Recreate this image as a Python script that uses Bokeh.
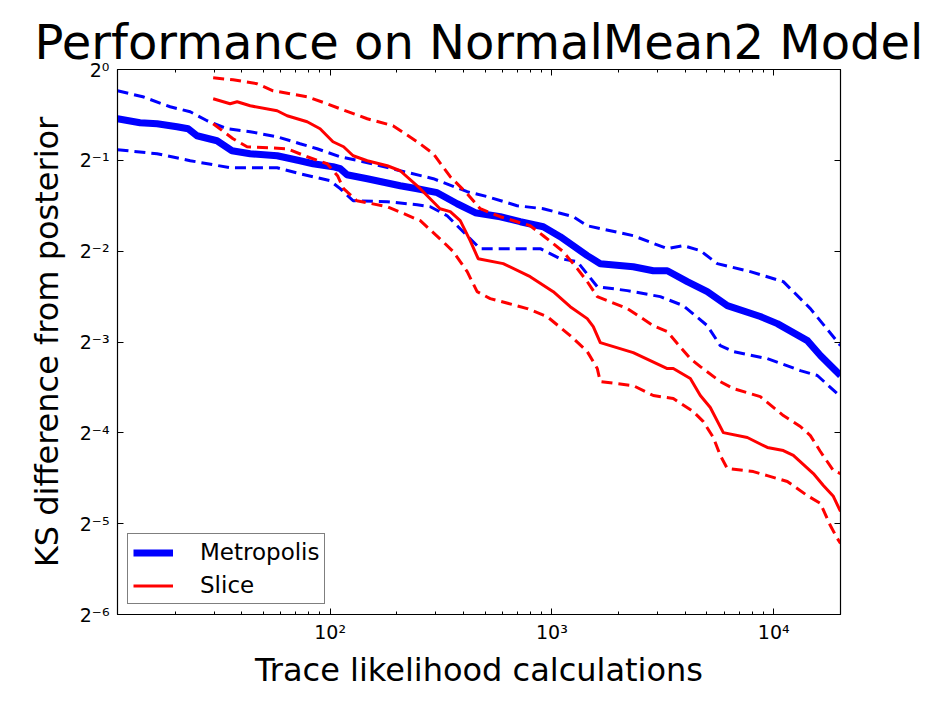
from bokeh.plotting import figure
from bokeh.models import FixedTicker, CustomJSTickFormatter, LogAxis
from bokeh.embed import file_html
from bokeh.resources import INLINE

# ---------------- data ----------------
metro_mean_x = [11, 13.9, 16.6, 20.4, 22.9, 25.1, 30.9, 36.1, 43.6, 57.7, 73.2, 83.8, 103, 111, 119, 147,
                207, 247, 304, 374, 451, 585, 720, 914, 1090, 1443, 1652, 2326, 2864, 3313, 4076, 5017,
                6176, 8700, 10380, 14180, 16230, 20000]
metro_mean_y = [0.6866, 0.6663, 0.6611, 0.6462, 0.6364, 0.6032, 0.5806, 0.5380, 0.5258, 0.5179, 0.4985,
                0.4872, 0.4762, 0.4690, 0.4480, 0.4346, 0.4120, 0.4027, 0.3906, 0.3590, 0.3352, 0.3251,
                0.3130, 0.3013, 0.2792, 0.2416, 0.2272, 0.2220, 0.2153, 0.2153, 0.1981, 0.1836, 0.1650,
                0.1518, 0.1438, 0.1263, 0.1127, 0.0968]

metro_hi_x = [11, 14.3, 19.0, 23.4, 27.9, 34.3, 43.6, 57.7, 73.2, 87.4, 111, 141, 207, 292, 415, 511, 697,
              914, 1248, 1443, 2326, 3313, 3911, 4667, 5566, 7843, 11050, 14630, 20000]
metro_hi_y = [0.8502, 0.8122, 0.7524, 0.7243, 0.6763, 0.6362, 0.6218, 0.5986, 0.5674, 0.5462, 0.5138,
              0.4947, 0.4618, 0.4346, 0.3936, 0.3790, 0.3536, 0.3456, 0.3252, 0.3036, 0.2813, 0.2548,
              0.2607, 0.2510, 0.2273, 0.2139, 0.1981, 0.1613, 0.1216]

metro_lo_x = [11, 16.6, 23.4, 29.7, 35.4, 57.7, 73.2, 100, 111, 127, 181, 247, 283, 337, 415, 475, 886,
              1090, 1301, 1601, 2187, 3080, 3911, 5017, 5742, 6573, 9358, 13180, 15730, 20000]
metro_lo_y = [0.5421, 0.5258, 0.4985, 0.4835, 0.4726, 0.4726, 0.4514, 0.4280, 0.4027, 0.3673, 0.3645,
              0.3563, 0.3509, 0.3277, 0.2813, 0.2548, 0.2548, 0.2361, 0.2308, 0.1907, 0.1850, 0.1767,
              0.1650, 0.1416, 0.1216, 0.1162, 0.1101, 0.1005, 0.0968, 0.0824]

slice_mean_x = [29.7, 35.4, 38.1, 43.6, 57.7, 64.0, 78.8, 90.1, 103, 115, 127, 147, 181, 207, 255, 313,
                348, 386, 428, 465, 603, 798, 1014, 1209, 1443, 1536, 1652, 2326, 3313, 3525, 4207, 4667,
                5176, 5925, 7602, 9358, 11050, 12260, 15090, 16740, 18570, 20000]
slice_mean_y = [0.7998, 0.7699, 0.7817, 0.7582, 0.7299, 0.7025, 0.6711, 0.6362, 0.5762, 0.5546, 0.5179,
                0.4985, 0.4798, 0.4618, 0.4027, 0.3457, 0.3379, 0.3155, 0.2709, 0.2361, 0.2273, 0.2058,
                0.1835, 0.1637, 0.1494, 0.1406, 0.1244, 0.1153, 0.1021, 0.1021, 0.0946, 0.0831, 0.0758,
                0.0626, 0.0603, 0.0559, 0.0546, 0.0526, 0.0458, 0.0418, 0.0385, 0.0343]

slice_hi_x = [29.7, 36.5, 46.9, 55.3, 66.0, 78.8, 96.9, 111, 147, 192, 247, 292, 348, 415, 475, 585, 798,
              914, 1125, 1301, 1443, 1601, 2187, 2864, 3313, 3675, 4207, 4667, 5742, 6573, 8700, 11050,
              13180, 14630, 16230, 18570, 20000]
slice_hi_y = [0.9387, 0.9245, 0.8967, 0.8502, 0.8309, 0.8122, 0.7699, 0.7410, 0.6866, 0.6510, 0.5762,
              0.5258, 0.4412, 0.3876, 0.3457, 0.3252, 0.3036, 0.2813, 0.2490, 0.2188, 0.1981, 0.1767,
              0.1613, 0.1416, 0.1353, 0.1235, 0.1101, 0.1036, 0.0924, 0.0876, 0.0824, 0.0713, 0.0656,
              0.0612, 0.0542, 0.0469, 0.0458]

slice_lo_x = [29.7, 36.5, 42.2, 64.0, 78.8, 96.9, 108, 115, 132, 181, 255, 323, 359, 415, 460, 527, 774,
              952, 1209, 1443, 1601, 1652, 2326, 2864, 3525, 4341, 4815, 5341, 5742, 6176, 8091, 9358,
              11520, 14180, 16230, 18000, 19360, 20000]
slice_lo_y = [0.6611, 0.5896, 0.5546, 0.5462, 0.5138, 0.4872, 0.4446, 0.4027, 0.3673, 0.3509, 0.3155,
              0.2688, 0.2490, 0.2138, 0.1835, 0.1741, 0.1613, 0.1517, 0.1313, 0.1162, 0.1021, 0.0924,
              0.0896, 0.0831, 0.0812, 0.0735, 0.0681, 0.0603, 0.0526, 0.0476, 0.0465, 0.0451, 0.0431,
              0.0387, 0.0365, 0.0308, 0.0279, 0.0269]

x_major_ticks = [100, 1000, 10000]
x_minor_ticks = [20, 30, 40, 50, 60, 70, 80, 90, 200, 300, 400, 500, 600, 700, 800, 900,
                 2000, 3000, 4000, 5000, 6000, 7000, 8000, 9000]
y_major_ticks = [2 ** -6, 2 ** -5, 2 ** -4, 2 ** -3, 2 ** -2, 2 ** -1, 1]

title_text = "Performance on NormalMean2 Model"
x_label = "Trace likelihood calculations"
y_label = "KS difference from posterior"

FONT = "DejaVu Sans"

p = figure(x_axis_type="log", y_axis_type="log",
           x_range=(11, 20000), y_range=(2 ** -6, 1),
           frame_width=723, frame_height=545,
           min_border_left=117, min_border_right=86, min_border_top=69, min_border_bottom=78,
           output_backend="svg", toolbar_location=None, title=title_text)

p.background_fill_color = "white"
p.border_fill_color = "white"
p.outline_line_color = "black"
p.outline_line_width = 1.2
p.grid.visible = False

p.title.text_font = FONT
p.title.text_font_size = "48px"
p.title.text_font_style = "normal"
p.title.text_color = "black"
p.title.align = "center"
p.title.standoff = 0

sup_code = r"""
const sup = {"-": "\u207b", "0": "\u2070", "1": "\u00b9", "2": "\u00b2", "3": "\u00b3",
             "4": "\u2074", "5": "\u2075", "6": "\u2076", "7": "\u2077", "8": "\u2078", "9": "\u2079"};
const e = Math.round(Math.log(tick) / Math.log(%s));
return "%s" + String(e).split("").map(c => sup[c]).join("");
"""

xt = FixedTicker(ticks=x_major_ticks, minor_ticks=x_minor_ticks)
yt = FixedTicker(ticks=y_major_ticks, minor_ticks=[])

def style_axis(ax, show_labels):
    ax.axis_line_color = "black"
    ax.major_tick_in = 6
    ax.major_tick_out = 0
    ax.minor_tick_in = 3
    ax.minor_tick_out = 0
    ax.major_tick_line_color = "black"
    ax.minor_tick_line_color = "black"
    ax.major_label_text_font = FONT
    ax.major_label_text_font_size = "19px" if show_labels else "0px"
    ax.major_label_text_color = "black"
    ax.axis_label_text_font = FONT
    ax.axis_label_text_font_size = "32px"
    ax.axis_label_text_font_style = "normal"
    ax.axis_label_text_color = "black"

xa = p.xaxis[0]
xa.ticker = xt
xa.formatter = CustomJSTickFormatter(code=sup_code % ("10", "10"))
xa.axis_label = x_label
style_axis(xa, True)
xa.major_label_standoff = 6
xa.axis_label_standoff = 5

ya = p.yaxis[0]
ya.ticker = yt
ya.formatter = CustomJSTickFormatter(code=sup_code % ("2", "2"))
ya.axis_label = y_label
style_axis(ya, True)
ya.major_label_standoff = 8
ya.axis_label_standoff = 11

top_ax = LogAxis(ticker=FixedTicker(ticks=x_major_ticks, minor_ticks=x_minor_ticks),
                 formatter=CustomJSTickFormatter(code="return '';"))
style_axis(top_ax, False)
top_ax.major_label_standoff = 0
p.add_layout(top_ax, "above")

right_ax = LogAxis(ticker=FixedTicker(ticks=y_major_ticks, minor_ticks=[]),
                   formatter=CustomJSTickFormatter(code="return '';"))
style_axis(right_ax, False)
right_ax.major_label_standoff = 0
p.add_layout(right_ax, "right")

DASH = "11 6"
p.line(metro_hi_x, metro_hi_y, line_color="blue", line_width=3, line_dash=DASH)
p.line(metro_lo_x, metro_lo_y, line_color="blue", line_width=3, line_dash=DASH)
p.line(metro_mean_x, metro_mean_y, line_color="blue", line_width=7, line_join="round",
       legend_label="Metropolis")
p.line(slice_hi_x, slice_hi_y, line_color="red", line_width=3, line_dash=DASH)
p.line(slice_lo_x, slice_lo_y, line_color="red", line_width=3, line_dash=DASH)
p.line(slice_mean_x, slice_mean_y, line_color="red", line_width=3, line_join="round",
       legend_label="Slice")

lg = p.legend[0]
lg.location = "bottom_left"
lg.margin = 10
lg.padding = 5
lg.spacing = 7
lg.glyph_width = 40
lg.glyph_height = 25
lg.label_height = 25
lg.label_standoff = 27
lg.label_text_font = FONT
lg.label_text_font_size = "23px"
lg.label_text_color = "black"
lg.border_line_color = "black"
lg.border_line_width = 1.2
lg.background_fill_color = "white"
lg.background_fill_alpha = 1.0

open("out.html", "w", encoding="utf-8").write(file_html(p, INLINE))
